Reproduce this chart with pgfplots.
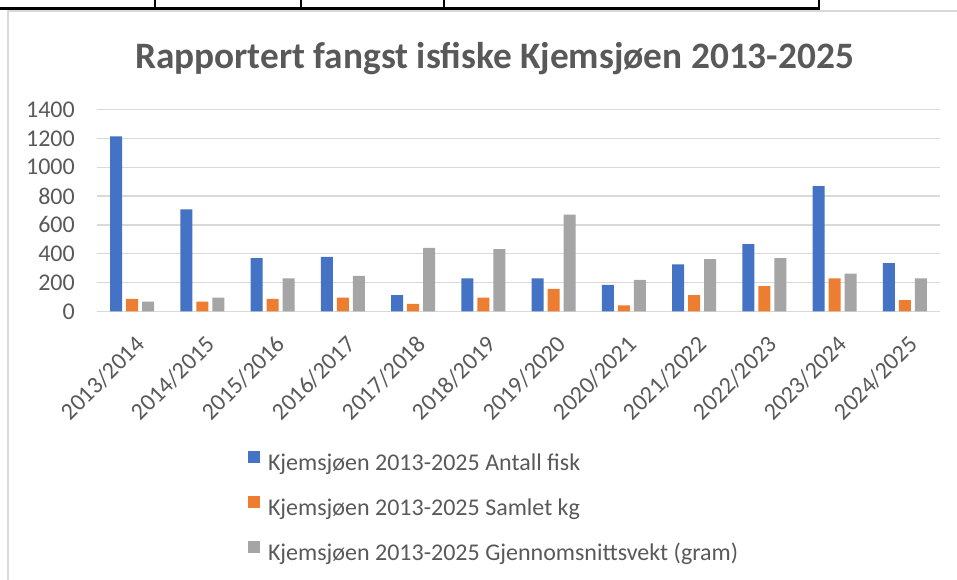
\documentclass[border=0pt]{standalone}
\usepackage{pgfplots}
\pgfplotsset{compat=1.18}
\usepackage{fontspec}
\setmainfont{Carlito}
\definecolor{cblue}{HTML}{4472C4}
\definecolor{corange}{HTML}{ED7D31}
\definecolor{cgray}{HTML}{A5A5A5}
\definecolor{ctext}{HTML}{595959}
\definecolor{cgrid}{HTML}{D9D9D9}
\begin{document}
\begin{tikzpicture}
\useasboundingbox (0,0) rectangle (957bp,580bp);
% screenshot frame: table line above and chart border
\draw[black, line width=2.3bp] (0,571.5bp) -- (820bp,571.5bp);
\foreach \xx in {155,301,444,819}{\draw[black, line width=1.6bp] (\xx bp,580bp) -- (\xx bp,571.5bp);}
\draw[cgrid, line width=1.6bp] (7.7bp,0) -- (7.7bp,569bp) -- (957bp,569bp);
% title
\node[anchor=base, text=ctext, font=\fontsize{37.3bp}{40bp}\selectfont\bfseries, inner sep=0pt] at (494.5bp,511bp) {Rapportert fangst isfiske Kjemsjøen 2013-2025};
\begin{axis}[
  at={(97bp,268.5bp)}, anchor=south west,
  scale only axis, width=843bp, height=202bp,
  xmin=-0.5, xmax=11.5, ymin=0, ymax=1400,
  ytick={0,200,...,1400},
  xtick={0,...,11},
  xticklabels={2013/2014,2014/2015,2015/2016,2016/2017,2017/2018,2018/2019,2019/2020,2020/2021,2021/2022,2022/2023,2023/2024,2024/2025},
  major tick length=0pt,
  axis line style={draw=none},
  ymajorgrids, grid style={cgrid, line width=1.4bp},
  /pgf/number format/assume math mode=true,
  /pgf/number format/1000 sep={},
  tick label style={text=ctext, font=\fontsize{24bp}{28bp}\selectfont},
  yticklabel style={anchor=east, inner sep=0pt, xshift=-22bp},
  xticklabel style={xshift=8.5bp, yshift=-29bp, rotate=45, anchor=east, inner sep=0pt},
  ybar=4bp, bar width=12bp,
  legend image code/.code={\fill[#1,draw=none] (0bp,1.5bp) rectangle (12bp,13.5bp);},
  legend style={at={(rel axis cs:0.17912,-0.6906)}, anchor=north west, draw=none, fill=none,
    inner sep=0pt, outer sep=0pt, row sep=20.5bp, column sep=8bp,
    nodes={inner sep=0pt, text height=17bp, text depth=5bp, text=ctext, font=\fontsize{24bp}{28bp}\selectfont}},
  legend cell align=left,
]
\addplot[fill=cblue, draw=none] coordinates {(0,1213) (1,707) (2,370) (3,379) (4,113) (5,229) (6,229) (7,185) (8,326) (9,467) (10,869) (11,335)};
\addplot[fill=corange, draw=none] coordinates {(0,88) (1,69) (2,88) (3,97) (4,53) (5,97) (6,157) (7,42) (8,113) (9,176) (10,229) (11,79)};
\addplot[fill=cgray, draw=none] coordinates {(0,69) (1,97) (2,229) (3,247) (4,441) (5,432) (6,672) (7,220) (8,363) (9,370) (10,263) (11,229)};
\legend{Kjemsjøen 2013-2025 Antall fisk, Kjemsjøen 2013-2025 Samlet kg, Kjemsjøen 2013-2025 Gjennomsnittsvekt (gram)}
\end{axis}
\end{tikzpicture}
\end{document}
